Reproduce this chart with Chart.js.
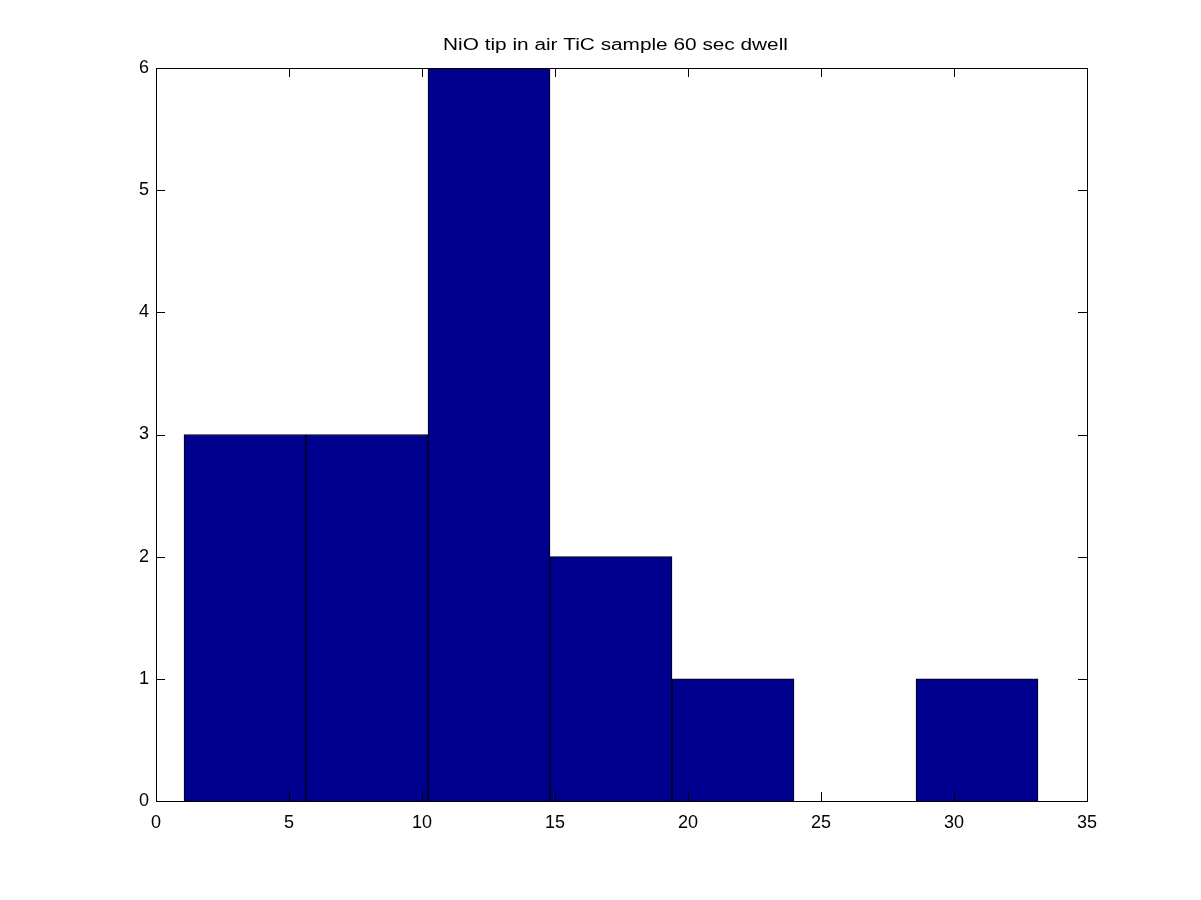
<!DOCTYPE html>
<html>
<head>
<meta charset="utf-8">
<script src="https://cdn.jsdelivr.net/npm/chart.js@4"></script>
<style>
  html, body { margin: 0; padding: 0; background: #fff; }
  #wrap { width: 1201px; height: 900px; }
</style>
</head>
<body>
<div id="wrap"><canvas id="c" width="1201" height="900"></canvas></div>
<script>
const titleText = "NiO tip in air TiC sample 60 sec dwell";
const binEdges = [1.053, 5.639, 10.226, 14.812, 19.399, 23.985, 28.572, 33.158];
const counts = [3, 3, 6, 2, 1, 0, 1];
const xTicks = [0, 5, 10, 15, 20, 25, 30, 35];
const yTicks = [0, 1, 2, 3, 4, 5, 6];

const points = counts.map((c, i) => ({ x: (binEdges[i] + binEdges[i + 1]) / 2, y: c }));

const FONT = 'Liberation Sans, Arial, Helvetica, sans-serif';

const boxTicks = {
  id: 'boxTicks',
  afterDatasetsDraw(chart) {
    const { ctx, chartArea: a, scales } = chart;
    const L = 9;
    ctx.save();
    ctx.strokeStyle = '#000';
    ctx.lineWidth = 1;
    ctx.beginPath();
    xTicks.forEach(v => {
      const px = Math.round(scales.x.getPixelForValue(v)) + 0.5;
      ctx.moveTo(px, a.bottom); ctx.lineTo(px, a.bottom - L);
      ctx.moveTo(px, a.top); ctx.lineTo(px, a.top + L);
    });
    yTicks.forEach(v => {
      const py = Math.round(scales.y.getPixelForValue(v)) + 0.5;
      ctx.moveTo(a.left, py); ctx.lineTo(a.left + L, py);
      ctx.moveTo(a.right, py); ctx.lineTo(a.right - L, py);
    });
    ctx.stroke();
    ctx.strokeRect(Math.round(a.left) + 0.5, Math.round(a.top) + 0.5,
                   Math.round(a.right - a.left), Math.round(a.bottom - a.top));
    ctx.restore();
  }
};

const wideTitle = {
  id: 'wideTitle',
  afterDraw(chart) {
    const { ctx, chartArea: a } = chart;
    ctx.save();
    ctx.fillStyle = '#000';
    ctx.font = '16px ' + FONT;
    ctx.textAlign = 'center';
    ctx.textBaseline = 'alphabetic';
    ctx.translate((a.left + a.right) / 2 - 6, a.top - 18);
    ctx.scale(1.3, 1);
    ctx.fillText(titleText, 0, 0);
    ctx.restore();
  }
};

new Chart(document.getElementById('c'), {
  type: 'bar',
  data: {
    datasets: [{
      label: titleText,
      data: points,
      backgroundColor: '#00008F',
      borderColor: '#000000',
      borderWidth: 1,
      barPercentage: 1.0,
      categoryPercentage: 1.0
    }]
  },
  options: {
    responsive: false,
    animation: false,
    devicePixelRatio: 1,
    layout: { padding: { left: 0, right: 114, top: 68, bottom: 0 } },
    plugins: {
      legend: { display: false },
      tooltip: { enabled: false },
      title: { display: false }
    },
    scales: {
      x: {
        type: 'linear',
        min: 0, max: 35,
        offset: false,
        afterBuildTicks(scale) { scale.ticks = xTicks.map(v => ({ value: v })); },
        afterFit(scale) { scale.height = 99; },
        grid: { display: false, drawTicks: false, offset: false },
        border: { display: false },
        ticks: {
          color: '#000',
          padding: 11,
          maxRotation: 0,
          font: { family: FONT, size: 18 }
        }
      },
      y: {
        type: 'linear',
        min: 0, max: 6,
        afterBuildTicks(scale) { scale.ticks = yTicks.map(v => ({ value: v })); },
        afterFit(scale) { scale.width = 156; },
        grid: { display: false, drawTicks: false },
        border: { display: false },
        ticks: {
          color: '#000',
          padding: 7,
          font: { family: FONT, size: 18 }
        }
      }
    }
  },
  plugins: [boxTicks, wideTitle]
});
</script>
</body>
</html>
